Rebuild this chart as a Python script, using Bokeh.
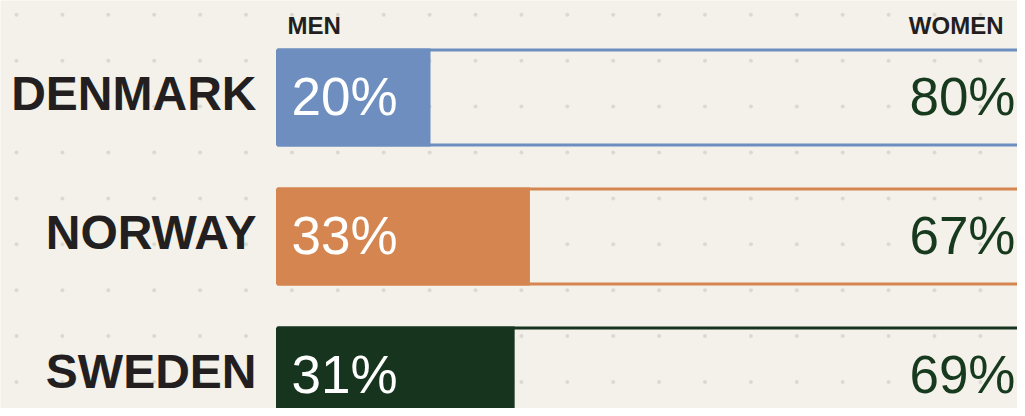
import numpy as np
from bokeh.plotting import figure
from bokeh.models import Range1d, ColumnDataSource
from bokeh.core.properties import value
from bokeh.embed import file_html
from bokeh.resources import INLINE

countries = ["DENMARK", "NORWAY", "SWEDEN"]
men = [20, 33, 31]
women = [80, 67, 69]
colors = ["#6d8ebf", "#d5854f", "#16341e"]
header_men = "MEN"
header_women = "WOMEN"

BG = "#f3f1ea"
TEXT = "#231f20"
DARK = "#173a1e"

# layout (reference pixels)
X0, PXPCT = 277.0, 7.65     # pixel of 0% and pixels per percent
Y0, ROW = 97.0, 139.0       # pixel of first row centre and row spacing
W, H = 1017, 408

def px2x(px):
    return (px - X0) / PXPCT

def px2y(py):
    return (py - Y0) / ROW

p = figure(width=W, height=H, output_backend="svg", toolbar_location=None,
           x_range=Range1d(px2x(0), px2x(W)),
           y_range=Range1d(px2y(H), px2y(0)),
           min_border=0, background_fill_color=BG, border_fill_color=BG,
           outline_line_color=None)
p.axis.visible = False
p.grid.visible = False

# dotted background pattern
gx = np.arange(16, 1030, 45.9)
gy = np.arange(14.3, 420, 45.9)
XX, YY = np.meshgrid(gx, gy)
p.scatter(px2x(XX.ravel()), px2y(YY.ravel()), size=4, color="#dbd9d2",
          line_color=None)

rows = np.arange(len(countries))
bh = 98.0 / ROW
inset = 1.5 / ROW
src = ColumnDataSource(dict(
    y=rows, men=men, women=women, color=colors, country=countries,
    top=rows - bh / 2, bottom=rows + bh / 2,
    otop=rows - bh / 2 + inset, obottom=rows + bh / 2 - inset,
    zero=[0] * len(rows), full=[100] * len(rows),
    men_lbl=[f"{v}%" for v in men], women_lbl=[f"{v}%" for v in women],
))

# outline of full 100% box
p.quad(left="zero", right="full", top="otop", bottom="obottom", source=src,
       fill_color=None, line_color="color", line_width=3)
# men share bar
p.quad(left="zero", right="men", top="top", bottom="bottom", source=src,
       fill_color="color", line_color=None)

# country labels
p.text(x="zero", y="y", text="country", source=src, x_offset=-21, y_offset=-4,
       text_align="right", text_baseline="alphabetic",
       text_font=value("Liberation Sans"), text_font_style="bold",
       text_font_size="48px", text_color=TEXT)
# men percent
p.text(x="zero", y="y", text="men_lbl", source=src, x_offset=14, y_offset=-1,
       text_align="left", text_baseline="alphabetic",
       text_font=value("Liberation Sans"), text_font_size="53px",
       text_color="white")
# women percent
p.text(x="full", y="y", text="women_lbl", source=src, x_offset=-27, y_offset=-1,
       text_align="right", text_baseline="alphabetic",
       text_font=value("Liberation Sans"), text_font_size="53px",
       text_color=DARK)

# headers
p.text(x=[0], y=[0], text=[header_men], x_offset=10, y_offset=-72,
       text_align="left", text_baseline="alphabetic",
       text_font=value("Liberation Sans"), text_font_style="bold",
       text_font_size="24px", text_color=TEXT)
p.text(x=[100], y=[0], text=[header_women], x_offset=-39, y_offset=-72,
       text_align="right", text_baseline="alphabetic",
       text_font=value("Liberation Sans"), text_font_style="bold",
       text_font_size="24px", text_color=TEXT)

open("out.html", "w").write(file_html(p, INLINE))
